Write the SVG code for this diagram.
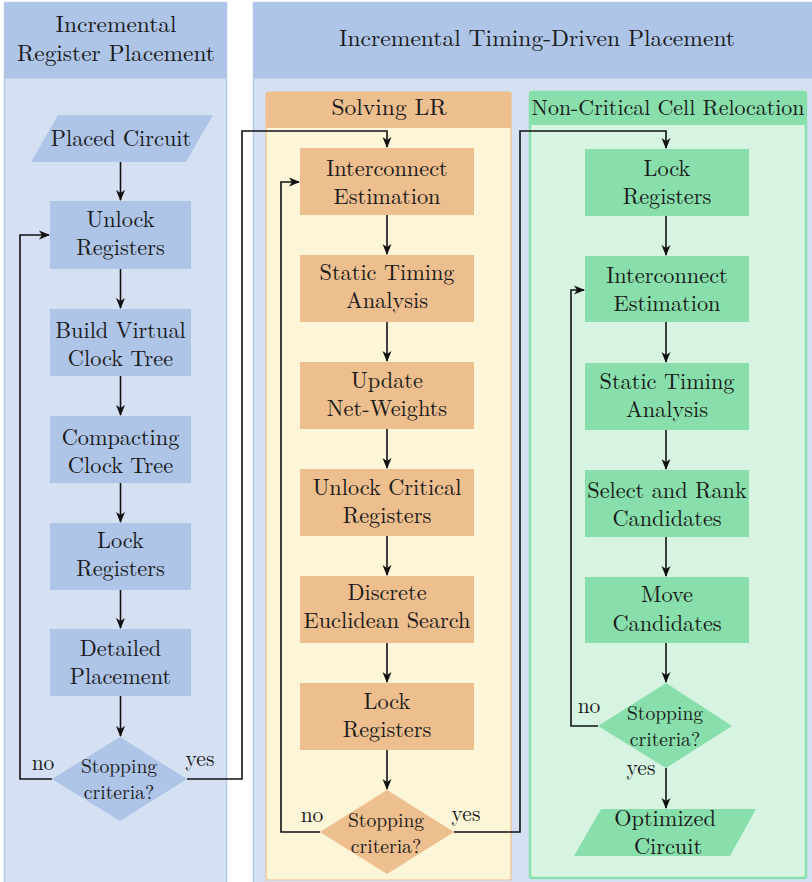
<svg xmlns="http://www.w3.org/2000/svg" width="812" height="882" viewBox="0 0 812 882">
<style>
text{font-family:'Latin Modern Roman','Liberation Serif',serif;fill:#1a1a1a;text-anchor:middle}
.t{font-size:22.3px}
.h{font-size:23.4px}
.d{font-size:19.6px}
.l{font-size:21.5px}
.bl{fill:#aec5e8}
.or{fill:#edbe8e}
.gr{fill:#88dfab}
.c{fill:none;stroke:#111;stroke-width:1.6}
</style>
<defs>
<marker id="a" markerUnits="userSpaceOnUse" markerWidth="12" markerHeight="10" refX="10" refY="5" orient="auto">
<path d="M0,0.5 L11,5 L0,9.5 L3,5 Z" fill="#111"/>
</marker>
</defs>

<g id="panel-left">
<rect x="4.5" y="2.5" width="222" height="882" fill="#d5e1f3" stroke="#b3c9ea" stroke-width="1.5"/>
<rect x="4.5" y="2.5" width="222" height="76" fill="#aec5e8"/>
<text class="h" x="116" y="32">Incremental</text>
<text class="h" x="116" y="61" textLength="198" lengthAdjust="spacingAndGlyphs">Register Placement</text>
</g>

<g id="panel-mid">
<rect x="253.5" y="2.5" width="562" height="882" fill="#d5e1f3" stroke="#b3c9ea" stroke-width="1.5"/>
<rect x="253.5" y="2.5" width="562" height="76" fill="#aec5e8"/>
<text class="h" x="537" y="46" textLength="396" lengthAdjust="spacingAndGlyphs">Incremental Timing-Driven Placement</text>
</g>

<g id="panel-lr">
<rect x="266" y="92" width="245" height="788" rx="2" fill="#fdf5d8" stroke="#edc08f" stroke-width="1.2"/>
<rect x="266" y="92" width="245" height="36" rx="2" fill="#edbe8e"/>
<text class="h" x="389" y="115" textLength="115" lengthAdjust="spacingAndGlyphs">Solving LR</text>
</g>

<g id="panel-ncr">
<rect x="530" y="92" width="276" height="786" rx="2" fill="#d7f4e3" stroke="#88dfab" stroke-width="2.5"/>
<rect x="530" y="92" width="276" height="33" fill="#88dfab"/>
<text class="h" x="668" y="115" style="font-size:22px" textLength="273" lengthAdjust="spacingAndGlyphs">Non-Critical Cell Relocation</text>
</g>

<g id="placed-circuit">
<polygon class="bl" points="58,115 213,115 186,162 31,162"/>
<text class="t" x="121" y="146">Placed Circuit</text>
</g>
<g id="unlock-registers">
<rect class="bl" x="50" y="201" width="141" height="68"/>
<text class="t" x="120.5" y="227">Unlock</text>
<text class="t" x="120.5" y="255">Registers</text>
</g>
<g id="build-virtual">
<rect class="bl" x="50" y="309" width="141" height="67"/>
<text class="t" x="120.5" y="338">Build Virtual</text>
<text class="t" x="120.5" y="366">Clock Tree</text>
</g>
<g id="compacting">
<rect class="bl" x="50" y="416" width="141" height="67"/>
<text class="t" x="120.5" y="445">Compacting</text>
<text class="t" x="120.5" y="473">Clock Tree</text>
</g>
<g id="lock-left">
<rect class="bl" x="50" y="523" width="141" height="67"/>
<text class="t" x="120.5" y="548">Lock</text>
<text class="t" x="120.5" y="576">Registers</text>
</g>
<g id="detailed-placement">
<rect class="bl" x="50" y="629" width="141" height="67"/>
<text class="t" x="120.5" y="656">Detailed</text>
<text class="t" x="120.5" y="684">Placement</text>
</g>
<g id="stop-left">
<polygon class="bl" points="120,737 187,779 120,821 52,779"/>
<text class="d" x="119" y="773">Stopping</text>
<text class="d" x="119" y="799">criteria?</text>
</g>

<g id="interconnect-mid">
<rect class="or" x="300" y="148" width="174" height="67"/>
<text class="t" x="387" y="176">Interconnect</text>
<text class="t" x="387" y="204">Estimation</text>
</g>
<g id="sta-mid">
<rect class="or" x="300" y="255" width="174" height="67"/>
<text class="t" x="387" y="280">Static Timing</text>
<text class="t" x="387" y="308">Analysis</text>
</g>
<g id="update-weights">
<rect class="or" x="300" y="362" width="174" height="67"/>
<text class="t" x="387" y="388">Update</text>
<text class="t" x="387" y="416">Net-Weights</text>
</g>
<g id="unlock-critical">
<rect class="or" x="300" y="469" width="174" height="67"/>
<text class="t" x="387" y="495">Unlock Critical</text>
<text class="t" x="387" y="523">Registers</text>
</g>
<g id="discrete-search">
<rect class="or" x="300" y="576" width="174" height="67"/>
<text class="t" x="387" y="600">Discrete</text>
<text class="t" x="387" y="628">Euclidean Search</text>
</g>
<g id="lock-mid">
<rect class="or" x="300" y="683" width="174" height="67"/>
<text class="t" x="387" y="709">Lock</text>
<text class="t" x="387" y="737">Registers</text>
</g>
<g id="stop-mid">
<polygon class="or" points="387,790 454,832 387,874 320,832"/>
<text class="d" x="386" y="827">Stopping</text>
<text class="d" x="386" y="853">criteria?</text>
</g>

<g id="lock-right">
<rect class="gr" x="585" y="149" width="164" height="67"/>
<text class="t" x="667" y="176">Lock</text>
<text class="t" x="667" y="204">Registers</text>
</g>
<g id="interconnect-right">
<rect class="gr" x="585" y="256" width="164" height="66"/>
<text class="t" x="667" y="283">Interconnect</text>
<text class="t" x="667" y="311">Estimation</text>
</g>
<g id="sta-right">
<rect class="gr" x="585" y="363" width="164" height="67"/>
<text class="t" x="667" y="389">Static Timing</text>
<text class="t" x="667" y="417">Analysis</text>
</g>
<g id="select-rank">
<rect class="gr" x="585" y="470" width="164" height="67"/>
<text class="t" x="667" y="498">Select and Rank</text>
<text class="t" x="667" y="526">Candidates</text>
</g>
<g id="move-candidates">
<rect class="gr" x="585" y="577" width="164" height="66"/>
<text class="t" x="667" y="602">Move</text>
<text class="t" x="667" y="631">Candidates</text>
</g>
<g id="stop-right">
<polygon class="gr" points="666,683 732,726 666,768 598,726"/>
<text class="d" x="665" y="720">Stopping</text>
<text class="d" x="665" y="746">criteria?</text>
</g>
<g id="optimized-circuit">
<polygon class="gr" points="601,809 756,809 730,856 574,856"/>
<text class="t" x="665" y="826">Optimized</text>
<text class="t" x="668" y="854">Circuit</text>
</g>

<g id="connectors">
<path class="c" marker-end="url(#a)" d="M120.5,162 V200"/>
<path class="c" marker-end="url(#a)" d="M120.5,269 V308"/>
<path class="c" marker-end="url(#a)" d="M120.5,376 V415"/>
<path class="c" marker-end="url(#a)" d="M120.5,483 V522"/>
<path class="c" marker-end="url(#a)" d="M120.5,590 V628"/>
<path class="c" marker-end="url(#a)" d="M120.5,696 V736"/>
<path class="c" marker-end="url(#a)" d="M52,779 H20 V235 H49"/>
<path class="c" marker-end="url(#a)" d="M187,779 H242 V131 H387 V147"/>
<path class="c" marker-end="url(#a)" d="M387,215 V254"/>
<path class="c" marker-end="url(#a)" d="M387,322 V361"/>
<path class="c" marker-end="url(#a)" d="M387,429 V468"/>
<path class="c" marker-end="url(#a)" d="M387,536 V575"/>
<path class="c" marker-end="url(#a)" d="M387,643 V682"/>
<path class="c" marker-end="url(#a)" d="M387,750 V789"/>
<path class="c" marker-end="url(#a)" d="M320,832 H281 V182 H299"/>
<path class="c" marker-end="url(#a)" d="M454,832 H520 V131 H666 V148"/>
<path class="c" marker-end="url(#a)" d="M666,216 V255"/>
<path class="c" marker-end="url(#a)" d="M666,322 V362"/>
<path class="c" marker-end="url(#a)" d="M666,430 V469"/>
<path class="c" marker-end="url(#a)" d="M666,537 V576"/>
<path class="c" marker-end="url(#a)" d="M666,643 V682"/>
<path class="c" marker-end="url(#a)" d="M666,768 V808"/>
<path class="c" marker-end="url(#a)" d="M598,726 H571 V290 H584"/>
<text class="l" x="43" y="770">no</text>
<text class="l" x="200" y="766">yes</text>
<text class="l" x="312" y="822">no</text>
<text class="l" x="466" y="821">yes</text>
<text class="l" x="589" y="713">no</text>
<text class="l" x="641" y="775">yes</text>
</g>
</svg>
